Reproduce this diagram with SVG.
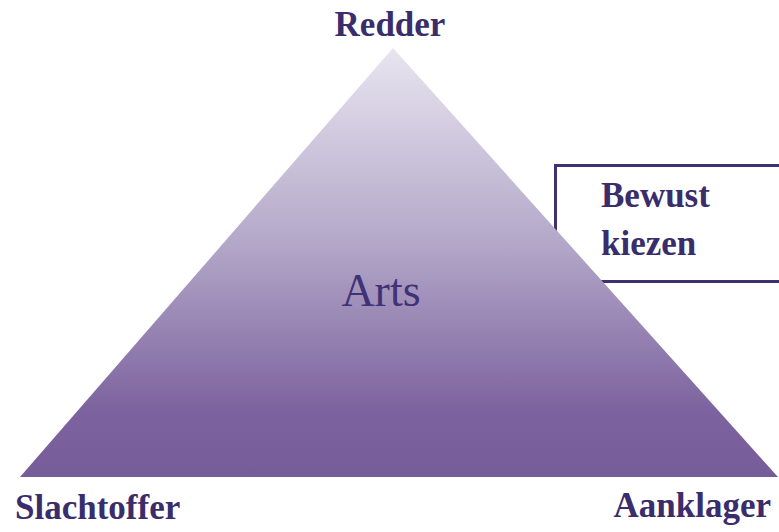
<svg xmlns="http://www.w3.org/2000/svg" width="779" height="532" viewBox="0 0 779 532">
<style>
.lbl{font-family:"Liberation Serif","Times New Roman",serif;font-weight:bold;font-size:35px;fill:#3a2d6c}
.mid{font-family:"Liberation Serif","Times New Roman",serif;font-size:46px;fill:#3f3275}
</style>
<defs>
<linearGradient id="g" x1="0" y1="48" x2="0" y2="477" gradientUnits="userSpaceOnUse">
<stop offset="0" stop-color="#e8e5f0"/>
<stop offset="0.45" stop-color="#b4a8c9"/>
<stop offset="0.85" stop-color="#7c629e"/>
<stop offset="1" stop-color="#775c9a"/>
</linearGradient>
</defs>
<rect width="779" height="532" fill="#ffffff"/>
<g id="choice">
<rect x="555.5" y="165.5" width="250" height="116" fill="#ffffff" stroke="#3f3070" stroke-width="3"/>
<text class="lbl" x="601" y="207">Bewust</text>
<text class="lbl" x="601" y="255">kiezen</text>
</g>
<g id="triangle">
<polygon points="393,48 778,477 20,477" fill="url(#g)"/>
<text class="mid" x="381" y="306" text-anchor="middle">Arts</text>
</g>
<g id="redder"><text class="lbl" x="390" y="36" text-anchor="middle">Redder</text></g>
<g id="slachtoffer"><text class="lbl" x="15" y="519">Slachtoffer</text></g>
<g id="aanklager"><text class="lbl" x="771" y="517" text-anchor="end">Aanklager</text></g>
<g id="connectors"></g>
</svg>
